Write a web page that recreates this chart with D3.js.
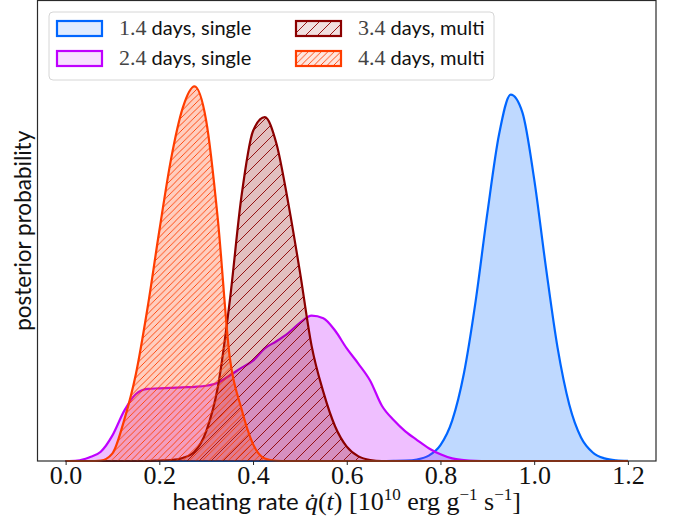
<!DOCTYPE html>
<html>
<head>
<meta charset="utf-8">
<script src="https://cdn.jsdelivr.net/npm/d3@7"></script>
<style>
  body { margin: 0; background: #fff; }
  svg { display: block; }
</style>
</head>
<body>
<div id="chart"></div>
<script>
// heating rate grid (10^10 erg/g/s)
const rateGrid = [0.0, 0.025, 0.05, 0.075, 0.1, 0.125, 0.15, 0.175, 0.2, 0.225, 0.25, 0.275, 0.3, 0.325, 0.35, 0.375,
  0.4, 0.425, 0.45, 0.475, 0.5, 0.525, 0.55, 0.575, 0.6, 0.625, 0.65, 0.675, 0.7, 0.725, 0.75, 0.775,
  0.8, 0.825, 0.85, 0.875, 0.9, 0.925, 0.95, 0.975, 1.0, 1.025, 1.05, 1.075, 1.1, 1.125, 1.15, 1.175, 1.2];

// posterior densities
const day14 = [0, 0, 0, 0, 0, 0, 0, 0, 0, 0, 0, 0, 0, 0, 0, 0,
  0, 0, 0, 0, 0, 0, 0, 0, 0, 0, 0, 0, 0.002, 0.007, 0.03, 0.105,
  0.31, 0.79, 1.71, 3.12, 4.84, 6.38, 7.16, 6.81, 5.51, 3.79, 2.21, 1.10, 0.46, 0.167, 0.051, 0.013, 0.003];
const day24 = [0, 0.01, 0.07, 0.18, 0.5, 0.98, 1.31, 1.41, 1.42, 1.43, 1.44, 1.45, 1.47, 1.53, 1.67, 1.82,
  1.96, 2.2, 2.34, 2.5, 2.7, 2.84, 2.79, 2.55, 2.2, 1.9, 1.57, 1.08, 0.8, 0.58, 0.41, 0.25,
  0.13, 0.05, 0.02, 0.005, 0, 0, 0, 0, 0, 0, 0, 0, 0, 0, 0, 0, 0];
const day34 = [0, 0, 0, 0, 0, 0, 0, 0, 0.01, 0.02, 0.06, 0.18, 0.58, 1.45, 3.1, 5.15,
  6.45, 6.72, 6.2, 5.05, 3.7, 2.25, 1.35, 0.68, 0.28, 0.09, 0.02, 0, 0, 0, 0, 0,
  0, 0, 0, 0, 0, 0, 0, 0, 0, 0, 0, 0, 0, 0, 0, 0, 0];
const day44 = [0, 0, 0, 0.01, 0.15, 0.8, 1.7, 3.0, 4.5, 5.9, 6.9, 7.32, 6.65, 4.71, 2.05, 1.03,
  0.33, 0.05, 0.005, 0, 0, 0, 0, 0, 0, 0, 0, 0, 0, 0, 0, 0,
  0, 0, 0, 0, 0, 0, 0, 0, 0, 0, 0, 0, 0, 0, 0, 0, 0];

const epochs = ["1.4", "2.4", "3.4", "4.4"];
const fitTypes = ["days, single", "days, single", "days, multi", "days, multi"];
const xTicks = [0.0, 0.2, 0.4, 0.6, 0.8, 1.0, 1.2];

const series = [
  { key: "d14", values: day14, color: "#0066ff", hatch: 0 },
  { key: "d24", values: day24, color: "#bf00ff", hatch: 0 },
  { key: "d34", values: day34, color: "#8b0000", hatch: 12 },
  { key: "d44", values: day44, color: "#ff3d00", hatch: 6.5 },
];

const width = 673;
const height = 527;
const margin = { top: 0.5, right: 17, bottom: 66, left: 37.5 };

const serif = "'Liberation Serif', 'DejaVu Serif', serif";
const sans = "Lato, 'DejaVu Sans', sans-serif";

const svg = d3
  .select("#chart")
  .append("svg")
  .attr("width", width)
  .attr("height", height);

const xScale = d3
  .scaleLinear()
  .domain([-0.06, 1.26])
  .range([margin.left, width - margin.right]);

const yScale = d3
  .scaleLinear()
  .domain([0, 9])
  .range([height - margin.bottom, margin.top]);

// Hatch patterns

const defs = svg.append("defs");
series.forEach(function (s) {
  if (!s.hatch) return;
  const n = s.hatch;
  const p = defs
    .append("pattern")
    .attr("id", "hatch-" + s.key)
    .attr("patternUnits", "userSpaceOnUse")
    .attr("width", n)
    .attr("height", n);
  p.append("path")
    .attr("d", `M0,${n} L${n},0 M${-n / 2},${n / 2} L${n / 2},${-n / 2} M${n / 2},${n * 1.5} L${n * 1.5},${n / 2}`)
    .attr("stroke", s.color)
    .attr("stroke-width", 0.9);
});

// Curves

const area = d3
  .area()
  .x((d, i) => xScale(rateGrid[i]))
  .y0(yScale(0))
  .y1((d) => yScale(d))
  .curve(d3.curveMonotoneX);

const line = d3
  .line()
  .x((d, i) => xScale(rateGrid[i]))
  .y((d) => yScale(d))
  .curve(d3.curveMonotoneX);

const plot = svg.append("g");

series.forEach(function (s) {
  plot.append("path")
    .attr("d", area(s.values))
    .attr("fill", s.color)
    .attr("fill-opacity", 0.25);
  if (s.hatch) {
    plot.append("path")
      .attr("d", area(s.values))
      .attr("fill", `url(#hatch-${s.key})`);
  }
  plot.append("path")
    .attr("d", line(s.values))
    .attr("fill", "none")
    .attr("stroke", s.color)
    .attr("stroke-width", 2.2)
    .attr("stroke-linejoin", "round");
});

// Axis

const xAxis = svg
  .append("g")
  .attr("transform", `translate(0, ${height - margin.bottom})`)
  .call(d3.axisBottom(xScale).tickValues(xTicks).tickSize(4).tickPadding(1).tickFormat(d3.format(".1f")));

xAxis.select(".domain").remove();
xAxis.selectAll("line").attr("stroke", "#222");
xAxis.selectAll("text")
  .attr("font-family", serif)
  .attr("font-size", 26)
  .attr("fill", "#111");

svg.append("rect")
  .attr("x", margin.left)
  .attr("y", margin.top)
  .attr("width", width - margin.right - margin.left)
  .attr("height", height - margin.bottom - margin.top)
  .attr("fill", "none")
  .attr("stroke", "#2a2a2a")
  .attr("stroke-width", 1.2);

// Axis labels

const xLabel = svg
  .append("text")
  .attr("x", (margin.left + width - margin.right) / 2)
  .attr("y", 510)
  .attr("text-anchor", "middle")
  .attr("fill", "#111")
  .attr("font-size", 23);

xLabel.append("tspan").attr("font-family", sans).attr("font-size", 24).text("heating rate ");
xLabel.append("tspan").attr("font-family", serif).attr("font-style", "italic").attr("font-size", 26).text("q\u0307");
xLabel.append("tspan").attr("font-family", serif).attr("font-size", 26).text("(");
xLabel.append("tspan").attr("font-family", serif).attr("font-style", "italic").attr("font-size", 26).text("t");
xLabel.append("tspan").attr("font-family", serif).attr("font-size", 26).text(") [10");
xLabel.append("tspan").attr("font-family", serif).attr("font-size", 17).attr("dy", -10).text("10");
xLabel.append("tspan").attr("font-family", serif).attr("font-size", 26).attr("dy", 10).text(" erg g");
xLabel.append("tspan").attr("font-family", serif).attr("font-size", 17).attr("dy", -10).text("\u22121");
xLabel.append("tspan").attr("font-family", serif).attr("font-size", 26).attr("dy", 10).text(" s");
xLabel.append("tspan").attr("font-family", serif).attr("font-size", 17).attr("dy", -10).text("\u22121");
xLabel.append("tspan").attr("font-family", serif).attr("font-size", 26).attr("dy", 10).text("]");

svg
  .append("text")
  .attr("transform", `translate(31, ${(margin.top + height - margin.bottom) / 2}) rotate(-90)`)
  .attr("text-anchor", "middle")
  .attr("font-family", sans)
  .attr("font-size", 22.5)
  .attr("fill", "#111")
  .text("posterior probability");

// Legend

const legend = svg.append("g");

legend.append("rect")
  .attr("x", 49)
  .attr("y", 12)
  .attr("width", 445)
  .attr("height", 68)
  .attr("rx", 4)
  .attr("fill", "#fff")
  .attr("fill-opacity", 0.8)
  .attr("stroke", "#d6d6d6")
  .attr("stroke-width", 1);

series.forEach(function (s, i) {
  const col = Math.floor(i / 2);
  const row = i % 2;
  const gx = 57 + col * 239;
  const gy = 21 + row * 30;
  const g = legend.append("g").attr("transform", `translate(${gx}, ${gy})`);
  g.append("rect")
    .attr("width", 45)
    .attr("height", 15)
    .attr("fill", s.color)
    .attr("fill-opacity", 0.12);
  if (s.hatch) {
    g.append("rect")
      .attr("width", 45)
      .attr("height", 15)
      .attr("fill", `url(#hatch-${s.key})`);
  }
  g.append("rect")
    .attr("width", 45)
    .attr("height", 15)
    .attr("fill", "none")
    .attr("stroke", s.color)
    .attr("stroke-width", 2.2);
  const t = g.append("text")
    .attr("x", 62)
    .attr("y", 14)
    .attr("fill", "#111");
  t.append("tspan").attr("font-family", serif).attr("font-size", 22).attr("fill", "#444").text(epochs[i]);
  t.append("tspan").attr("font-family", sans).attr("font-size", 20).text(" " + fitTypes[i]);
});
</script>
</body>
</html>
